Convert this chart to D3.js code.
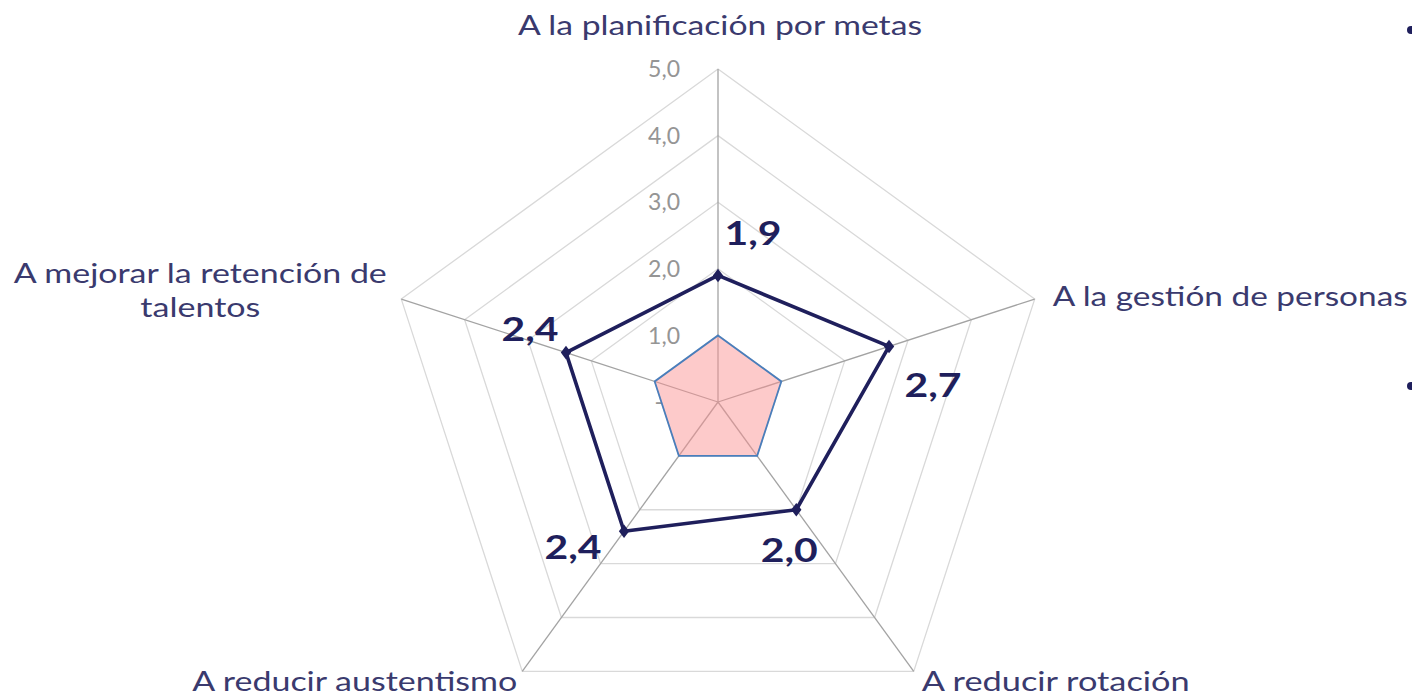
<!DOCTYPE html>
<html>
<head>
<meta charset="utf-8">
<script src="https://cdn.jsdelivr.net/npm/d3@7/dist/d3.min.js"></script>
<style>
  html, body { margin: 0; padding: 0; background: #ffffff; }
  svg { display: block; }
</style>
</head>
<body>
<svg id="chart" width="1412" height="697"></svg>
<script>
// ---- data ----
const categories = [
  "A la planificación por metas",
  "A la gestión de personas",
  "A reducir rotación",
  "A reducir austentismo",
  "A mejorar la retención de talentos"
];
const seriesMain = [1.9, 2.7, 2.0, 2.4, 2.4];
const seriesBase = [1.0, 1.0, 1.0, 1.0, 1.0];
const tickValues = [0, 1, 2, 3, 4, 5];
const tickLabels = ["-", "1,0", "2,0", "3,0", "4,0", "5,0"];
const dataLabels = ["1,9", "2,7", "2,0", "2,4", "2,4"];

// ---- layout / style ----
const W = 1412, H = 697;
const cx = 718, cy = 402, R = 333;
const svg = d3.select("#chart");
const font = "Lato, 'Open Sans', sans-serif";
const textColor = "#3a3a6e";
const navy = "#1f1f5c";

const rScale = d3.scaleLinear().domain([0, 5]).range([0, R]);
const aScale = d3.scaleLinear().domain([0, categories.length]).range([0, 2 * Math.PI]);
const pt = (i, v) => {
  const a = aScale(i);
  return [cx + rScale(v) * Math.sin(a), cy - rScale(v) * Math.cos(a)];
};
const radial = d3.lineRadial()
  .angle((d, i) => aScale(i))
  .radius(d => rScale(d))
  .curve(d3.curveLinearClosed);

const g = svg.append("g");

// grid rings
g.selectAll("path.ring").data(tickValues.filter(t => t > 0)).join("path")
  .attr("class", "ring")
  .attr("transform", `translate(${cx},${cy})`)
  .attr("d", t => radial(categories.map(() => t)))
  .attr("fill", "none")
  .attr("stroke", "#d9d9d9")
  .attr("stroke-width", 1.3);

// tick labels (drawn beneath series)
g.selectAll("text.tick").data(tickValues).join("text")
  .attr("class", "tick")
  .attr("x", t => cx - (t === 0 ? 55 : 38))
  .attr("y", t => pt(0, t)[1])
  .attr("dy", "0.36em")
  .attr("text-anchor", "end")
  .attr("font-family", font)
  .attr("font-size", 23)
  .attr("fill", "#959595")
  .text((t, i) => tickLabels[i]);

// spokes
g.selectAll("line.spoke").data(categories).join("line")
  .attr("class", "spoke")
  .attr("x1", cx).attr("y1", cy)
  .attr("x2", (d, i) => pt(i, 5)[0])
  .attr("y2", (d, i) => pt(i, 5)[1])
  .attr("stroke", "#a3a3a3")
  .attr("stroke-width", 1.3);

// base series (pink filled)
g.append("path")
  .attr("transform", `translate(${cx},${cy})`)
  .attr("d", radial(seriesBase))
  .attr("fill", "#fa9090")
  .attr("fill-opacity", 0.48)
  .attr("stroke", "#4a7ebb")
  .attr("stroke-width", 1.8);

// main series line
g.append("path")
  .attr("transform", `translate(${cx},${cy})`)
  .attr("d", radial(seriesMain))
  .attr("fill", "none")
  .attr("stroke", navy)
  .attr("stroke-width", 3.6)
  .attr("stroke-linejoin", "round");

// markers (diamonds)
const diamond = d3.symbol().type(d3.symbolDiamond).size(70);
g.selectAll("path.mk").data(seriesMain).join("path")
  .attr("class", "mk")
  .attr("transform", (v, i) => `translate(${pt(i, v)[0]},${pt(i, v)[1]}) scale(1.15,0.87)`)
  .attr("d", diamond)
  .attr("fill", navy);

// data labels
const dlOffsets = [[35, -42], [44, 39], [-7, 41], [-51, 16], [-36, -23]];
g.selectAll("text.dl").data(seriesMain).join("text")
  .attr("class", "dl")
  .attr("x", (v, i) => pt(i, v)[0] + dlOffsets[i][0])
  .attr("y", (v, i) => pt(i, v)[1] + dlOffsets[i][1])
  .attr("dy", "0.36em")
  .attr("text-anchor", "middle")
  .attr("font-family", font)
  .attr("font-weight", "bold")
  .attr("font-size", 32)
  .attr("fill", navy)
  .attr("textLength", 57)
  .attr("lengthAdjust", "spacingAndGlyphs")
  .text((v, i) => dataLabels[i]);

// category labels
const catLayout = [
  { lines: [categories[0]], anchor: "middle", dx: 2, dy: -34, widths: [404] },
  { lines: [categories[1]], anchor: "start", dx: 18, dy: 7, widths: [355] },
  { lines: [categories[2]], anchor: "start", dx: 8, dy: 20, widths: [268] },
  { lines: [categories[3]], anchor: "end", dx: -5, dy: 20, widths: [325] },
  { lines: ["A mejorar la retención de", "talentos"], anchor: "middle", dx: -201, dy: -16, widths: [373, 120] }
];
catLayout.forEach((c, i) => {
  const [vx, vy] = pt(i, 5);
  c.lines.forEach((ln, j) => {
    g.append("text")
      .attr("x", vx + c.dx)
      .attr("y", vy + c.dy + j * 34)
      .attr("text-anchor", c.anchor)
      .attr("font-family", font)
      .attr("font-size", 27)
      .attr("fill", textColor)
      .attr("textLength", c.widths[j])
      .attr("lengthAdjust", "spacingAndGlyphs")
      .text(ln);
  });
});

// slide bullets at right edge (decorative)
svg.selectAll("circle.bullet").data([30, 386]).join("circle")
  .attr("class", "bullet")
  .attr("cx", 1411).attr("cy", d => d).attr("r", 4)
  .attr("fill", navy);
</script>
</body>
</html>
